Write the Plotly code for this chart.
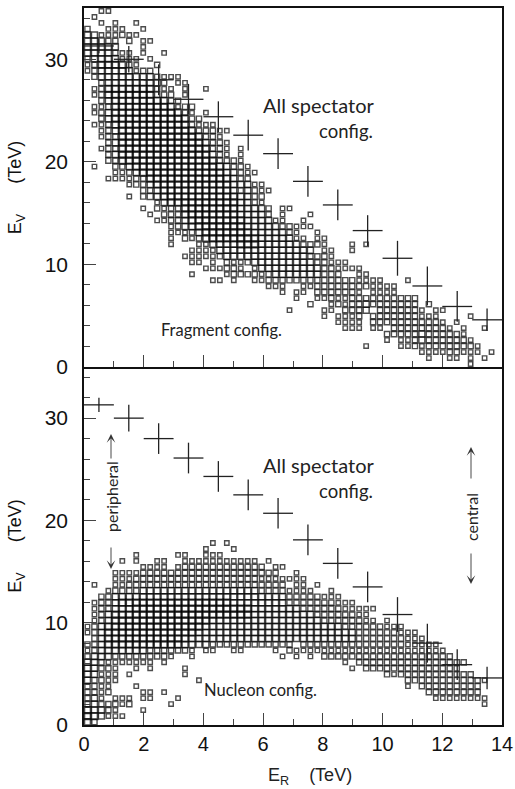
import plotly.graph_objects as go

W, H = 515, 789
L, R = 84, 502
T1, MID, B2 = 8, 367, 725

BIN_DX = 14 / 60
BIN_DY = 35 / 60
LEVEL_SIZE = {1: 4.4, 2: 5.2, 3: 6.0, 4: 6.3}
LEVEL_LINE = {1: 1.4, 2: 1.4, 3: 1.5, 4: 1.9}

# row index (energy bin in Ev) -> "col or col-col:level" cells
FRAGMENT_ROWS = {
    59: "2-3:1", 58: "1:1", 57: "2:1 4:1 7:1", 56: "0:2 3-5:1 8:1",
    55: "0-1:3 2-4:1 5:2 6-7:1", 54: "0-2:3 3-4:2 6:2 8-9:1", 53: "0-4:3 8:1",
    52: "0-3:3 4:2 5-6:1 8:1 11:1", 51: "0:2 1-4:3 5-7:1 9:1",
    50: "0:1 1:2 2-5:4 6:2 7:1 10:2", 49: "0:1 1:2 2-6:3 7:1 8-9:2",
    48: "1:2 2-9:3 10:2 11-13:1", 47: "2:2 3-10:3 11:2 13-14:1",
    46: "1:1 2:2 3-9:4 10:2 11-12:1 14:1 17:1", 45: "1:1 2:2 3-9:4 10-12:2 14:1",
    44: "2:2 3:3 4-11:4 12-13:2", 43: "1-2:1 3:2 4-12:4 13:1 14-15:2",
    42: "1:1 2:2 3:3 4-13:4 14:2 15:1 17:1", 41: "2:2 3:3 4-14:4 15-16:2",
    40: "1-2:1 3:2 4-14:4 15:2 16-18:1", 39: "2:1 3:2 4:3 5-15:4 16-18:2 19-20:1",
    38: "2:1 3-4:2 5-16:4 17-18:2 19:1", 37: "3:2 4:3 5-16:4 17:3 18-19:2 20:1",
    36: "2:1 3-4:2 5-17:4 18-19:2 20:1 22:1", 35: "3:2 4:3 5-17:4 18:3 19:2 20:1 22:1",
    34: "3-4:2 5-18:4 19-21:2 22:1", 33: "1:1 4-5:2 6:3 7-19:4 20:3 21-22:2 23:1",
    32: "4-5:1 6:2 7:3 8-19:4 20-21:3 22:2 23-24:1",
    31: "3-6:1 7-8:2 9-20:4 21:3 22-23:2",
    30: "6:1 7-8:2 9:3 10-20:4 21-23:3 24-25:1",
    29: "8-9:2 10:3 11-20:4 21:3 22:2 23:3 24:2 25-26:1",
    28: "6:1 8:2 9-10:3 11-21:4 22-23:3 24-25:2",
    27: "10:1 11:3 12-21:4 22-23:3 24:2 25:1",
    26: "8:1 10:2 11:1 12-13:2 14-21:4 22-25:3 26:2 28-29:1",
    25: "9:1 11-13:2 14-21:4 22-25:3 26:2 28:1 32:1",
    24: "10-11:1 12-13:2 14:3 15-22:4 23-26:3 27-28:1 31:1",
    23: "12:1 13:2 14-15:3 16-22:4 23-27:3 28-29:2 30-32:1",
    22: "12-14:1 15:2 16:3 17-23:4 24-28:3 29:2 30:1 33:1",
    21: "12:1 14:2 15:1 16:2 17-24:4 25-29:3 30-31:1 33-34:1",
    20: "12:1 16-17:1 18-21:3 22-24:4 25-30:3 31-33:2 34:1 38:1 40:1",
    19: "15-18:1 19-32:3 34-35:1 38:1",
    18: "14-18:1 19:2 20-31:3 32-34:2 35:1",
    17: "15-16:1 18:1 20:2 21-22:1 23:2 24-32:3 33-34:2 35-37:1",
    16: "17-19:1 20-21:2 22:1 24:1 25-33:3 34-35:2 36-39:1",
    15: "15:1 20:1 21-24:2 25:1 26:2 27-33:3 34-36:2 39-40:1",
    14: "18-19:1 21:1 24-25:1 26-38:2 39-42:1 46:1",
    13: "26-28:1 31-32:1 33-40:2 41-44:1",
    12: "28:1 30-31:1 33-38:2 39:1 41-44:1",
    11: "30:1 33-34:1 35:2 36-37:1 38-47:2",
    10: "32:2 35:1 36:2 37:1 38-39:2 40:3 41-47:2 49:2",
    9: "29:1 34-35:1 37-39:2 40:3 42-47:2 48:1 50-51:1",
    8: "34:1 36-38:1 39:2 41-47:2 48-50:1 55:1",
    7: "36-39:1 41-50:2 51:1 53:1",
    6: "37-39:1 41-42:1 44-51:2 52:1 54:1 57:1",
    5: "43-47:2 48:3 49-53:2 54:1",
    4: "43:1 45-46:1 47:2 48:3 49-54:2 55:1",
    3: "40:1 45-46:1 47:2 48:1 49-55:2 56:1",
    2: "48-51:1 52-53:2 54-56:1 58:1",
    1: "49:1 52-53:1 55:1 57:1",
    0: "55:1",
}

NUCLEON_ROWS = {
    30: "18:1 20:1", 29: "17:1 21:1", 28: "7:1 13-14:1 17-19:1",
    27: "5:1 7:1 10-11:1 14-24:1 26:1",
    26: "8-11:1 13:1 14-25:2 27-28:1",
    25: "4-7:1 8-27:2 30:1",
    24: "4-6:1 7-24:2 25-31:1",
    23: "1:1 4-5:1 6-28:2 30-31:1 33:1",
    22: "3:1 4-7:2 8-24:3 25-28:2 29-32:1 35:1",
    21: "2-3:2 4-28:3 29-33:2 34-36:1",
    20: "1:1 2-3:2 4:3 5-20:4 21-28:3 29-35:2 36-38:1",
    19: "1:1 2-3:2 4-6:3 7-23:4 24-30:3 31-36:2 37-41:1",
    18: "1:1 2:2 3:3 4-23:4 24-32:3 33-38:2 39-40:1",
    17: "1:1 2:2 3:3 4-17:4 18-33:3 34-39:2 40-41:1 43:1",
    16: "0:1 1:2 2:3 3-16:4 17-36:3 37-42:2 43-45:1",
    15: "0:1 1:2 2:3 3-15:4 16-38:3 39-44:2 45-47:1",
    14: "1:2 2:3 3-14:4 15-38:3 39-45:2 46-48:1",
    13: "0-1:2 2:3 3-13:4 14-17:3 18-29:2 31-45:2 46-50:1",
    12: "0:1 1:2 2-8:3 9-14:2 15:1 17-18:1 21-22:1 27:1 29:2 30-51:1",
    11: "0:2 1-3:3 4-11:2 12:1 15:1 28:1 30:1 32:1 34-52:2",
    10: "0-1:3 2:2 3-9:1 11:1 37:1 39-54:2",
    9: "0-1:3 2-3:2 4:1 7:1 9:1 14:1 38:1 40-53:2",
    8: "0-1:3 2-4:1 6:1 14:1 43:2 44:1 45-55:2",
    7: "0:3 1-2:2 3-4:1 16:1 46-56:2 57:1",
    6: "0-1:2 2-3:1 7:1 46:1 48-56:2",
    5: "0-1:2 2:1 3:2 8-9:1 11:1 49-56:2",
    4: "0:2 1:3 2:1 4-6:1 8-9:1 13:1 50-57:1",
    3: "0:2 1:3 2-4:2 5:1 6:2 12:1 57:1",
    2: "0:4 1-2:3 3:2 4:1 8:1",
    1: "0-1:4 2:3 3-5:1",
    0: "0:4 1:2",
}

CROSS_ER = [0.5, 1.5, 2.5, 3.5, 4.5, 5.5, 6.5, 7.5, 8.5, 9.5, 10.5, 11.5, 12.5, 13.5]
CROSS_EV_TOP = [31.3, 30.0, 28.0, 26.1, 24.4, 22.6, 20.8, 18.1, 15.8, 13.3, 10.6, 7.9, 5.9, 4.6]
CROSS_EV_BOTTOM = [31.3, 30.0, 28.0, 26.1, 24.3, 22.5, 20.7, 18.1, 15.8, 13.5, 10.8, 8.0, 5.9, 4.6]
CROSS_EV_ERR = [0.7, 1.3, 1.5, 1.5, 1.5, 1.5, 1.5, 1.5, 1.5, 1.5, 1.7, 1.9, 1.5, 1.1]
CROSS_ER_ERR = [0.5] * 14


def px(x):
    return x / W


def py(y):
    return 1 - y / H


def cells(rows):
    xs, ys, sizes, widths = [], [], [], []
    for row, spec in rows.items():
        for item in spec.split():
            span, lev = item.split(":")
            a, _, b = span.partition("-")
            for col in range(int(a), int(b or a) + 1):
                xs.append((col + 0.5) * BIN_DX)
                ys.append((row + 0.5) * BIN_DY)
                sizes.append(LEVEL_SIZE[int(lev)])
                widths.append(LEVEL_LINE[int(lev)])
    return xs, ys, sizes, widths


fig = go.Figure()
for rows, crosses, xa, ya in [
    (FRAGMENT_ROWS, CROSS_EV_TOP, "x", "y"),
    (NUCLEON_ROWS, CROSS_EV_BOTTOM, "x2", "y2"),
]:
    xs, ys, sizes, widths = cells(rows)
    fig.add_trace(go.Scatter(
        x=xs, y=ys, mode="markers", xaxis=xa, yaxis=ya, showlegend=False,
        marker=dict(symbol="square-open", size=sizes, color="#000000",
                    line=dict(width=widths, color="#000000")),
    ))
    fig.add_trace(go.Scatter(
        x=CROSS_ER, y=crosses, mode="markers", xaxis=xa, yaxis=ya, showlegend=False,
        marker=dict(size=1, color="#222222"),
        error_x=dict(type="data", array=CROSS_ER_ERR, width=0, thickness=1.3, color="#222222"),
        error_y=dict(type="data", array=CROSS_EV_ERR, width=0, thickness=1.3, color="#222222"),
    ))

axis_common = dict(
    showgrid=False, zeroline=False, showline=True, linecolor="#111111", automargin=False,
    linewidth=1.5, ticks="inside", tickcolor="#444444", tickwidth=1,
)
xticks = dict(range=[0, 14], dtick=2, tick0=0, ticklen=12,
              minor=dict(dtick=1, tick0=0, ticks="inside", ticklen=6,
                         tickcolor="#444444", tickwidth=1, showgrid=False), **axis_common)
yticks = dict(range=[0, 35], dtick=10, tick0=0, ticklen=12, mirror=True,
              ticksuffix="\u00a0\u2009",
              minor=dict(dtick=2, tick0=0, ticks="inside", ticklen=6,
                         tickcolor="#444444", tickwidth=1, showgrid=False),
              tickfont=dict(size=21, family="Liberation Sans", color="#111111"),
              title=dict(text="E<sub>V</sub>&nbsp;&nbsp;&nbsp;&nbsp;&nbsp;&nbsp;(TeV)", standoff=18,
                         font=dict(size=18, family="Liberation Sans", color="#111111")),
              **axis_common)
fig.update_layout(
    width=W, height=H, autosize=False, margin=dict(l=0, r=0, t=0, b=0),
    paper_bgcolor="white", plot_bgcolor="white", showlegend=False,
    xaxis=dict(domain=[px(L), px(R)], anchor="y", showticklabels=False, mirror=True, **xticks),
    yaxis=dict(domain=[py(MID), py(T1)], anchor="x", **yticks),
    xaxis2=dict(domain=[px(L), px(R)], anchor="y2", mirror=False,
                tickfont=dict(size=20, family="Liberation Sans", color="#111111"),
                **xticks),
    yaxis2=dict(domain=[py(B2), py(MID)], anchor="x2", **yticks),
)


def note(text, x, y, size=16.5, angle=0, family="Lato"):
    fig.add_annotation(text=text, xref="paper", yref="paper", x=px(x), y=py(y),
                       showarrow=False, textangle=angle, xanchor="center", yanchor="middle",
                       font=dict(family=family, size=size, color="#222222"))


def arrow(x, y0, y1):
    fig.add_annotation(xref="paper", yref="paper", axref="pixel", ayref="pixel",
                       x=px(x), y=py(y1), ax=0, ay=y0 - y1, text="", showarrow=True,
                       arrowhead=3, arrowsize=1.6, arrowwidth=0.9, arrowcolor="#333333",
                       standoff=0, startstandoff=0)


note("All spectator", 318, 105, size=20)
note("config.", 346, 131, size=18.5)
note("Fragment config.", 221, 330)
note("All spectator", 318, 465, size=20)
note("config.", 346, 491, size=18.5)
note("Nucleon config.", 260, 690)
note("peripheral", 111, 497, size=16, angle=-90)
note("central", 471, 517, size=16, angle=-90)
note("E<sub>R</sub>&nbsp;&nbsp;&nbsp;&nbsp;(TeV)", 310, 776, size=18, family="Liberation Sans")
arrow(111, 460, 434)
arrow(111, 546, 569)
arrow(471, 480, 447)
arrow(471, 552, 584)

fig.write_html("out.html", config=dict(displayModeBar=False), post_script=(
    "document.documentElement.style.overflow='hidden';"
    "document.body.style.margin='0';document.body.style.overflow='hidden';"))
